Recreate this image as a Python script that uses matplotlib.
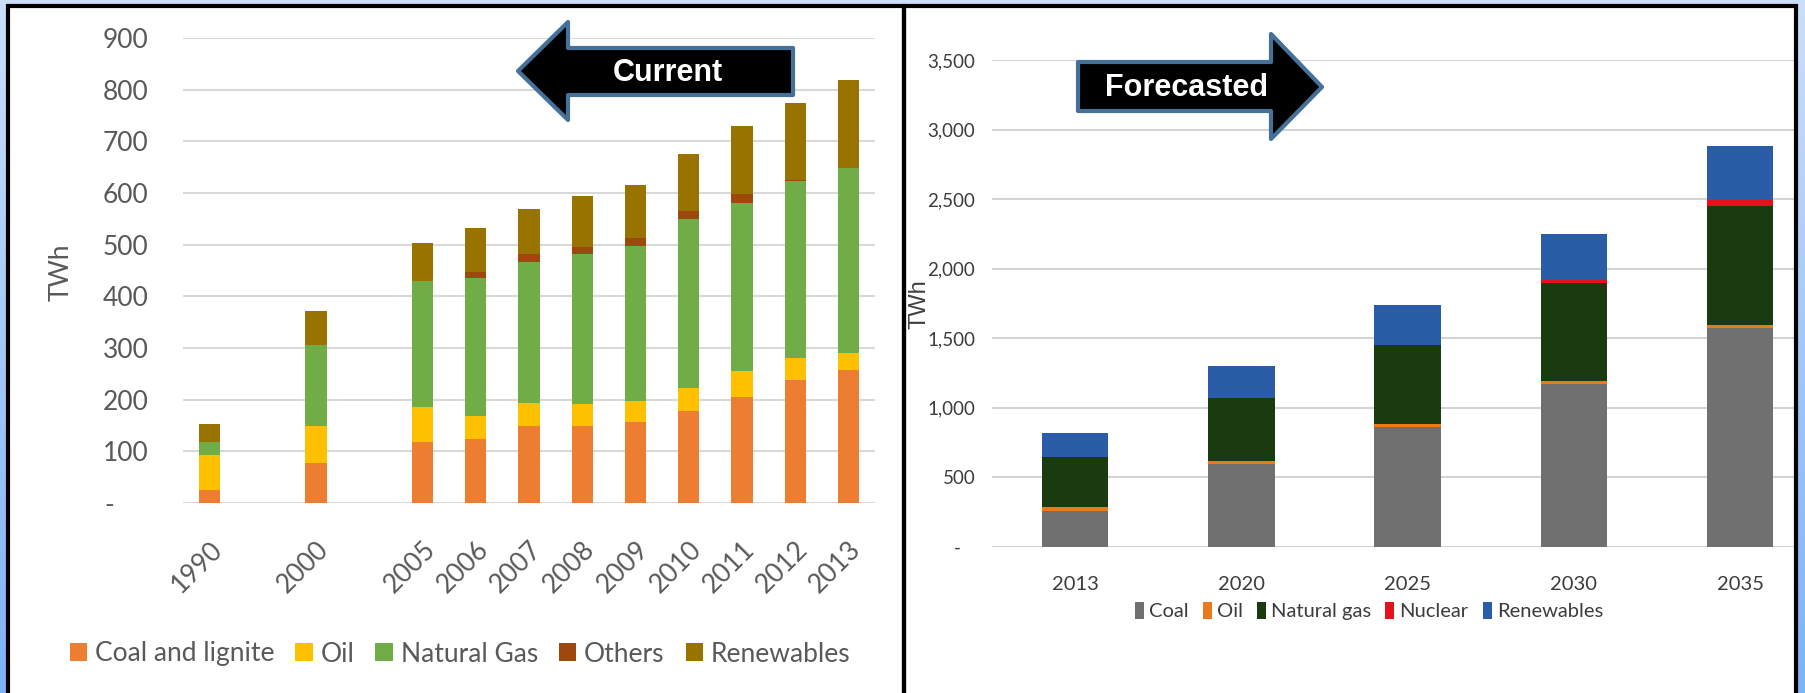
import matplotlib.pyplot as plt
import numpy as np
from matplotlib.patches import Polygon, Rectangle
from matplotlib.colors import LinearSegmentedColormap

W, H = 1805, 693

# ---- left chart: current generation (blank categories as in the Excel chart)
cur_years = ["1990", "", "2000", "", "2005", "2006", "2007", "2008", "2009", "2010", "2011", "2012", "2013"]
cur_coal = [25, 0, 77, 0, 118, 124, 150, 150, 156, 178, 205, 238, 257]
cur_oil = [67, 0, 73, 0, 68, 45, 44, 42, 42, 45, 51, 43, 34]
cur_gas = [27, 0, 155, 0, 244, 266, 272, 289, 299, 327, 325, 343, 357]
cur_others = [0, 0, 0, 0, 0, 13, 15, 14, 15, 15, 17, 2, 0]
cur_renew = [34, 0, 67, 0, 73, 85, 88, 99, 103, 110, 132, 149, 171]

# ---- right chart: forecast
fc_years = ["2013", "2020", "2025", "2030", "2035"]
fc_coal = [257, 597, 863, 1171, 1571]
fc_oil = [34, 22, 22, 25, 25]
fc_gas = [353, 451, 565, 702, 857]
fc_nuclear = [0, 0, 0, 22, 38]
fc_renew = [175, 234, 292, 330, 391]


def px(x, y):
    return x / W, 1 - y / H


fig = plt.figure(figsize=(W / 100, H / 100), dpi=100)

# blue gradient background
bg = fig.add_axes([0, 0, 1, 1], zorder=-10)
cmap = LinearSegmentedColormap.from_list("bg", ["#CBDFFA", "#7DB2F7"])
bg.imshow(np.linspace(0, 1, 256).reshape(-1, 1), aspect="auto", cmap=cmap, extent=[0, 1, 0, 1])
bg.axis("off")

# white panels with black border
for x0, x1 in [(8, 904), (904, 1796)]:
    (fx0, fy0), (fx1, fy1) = px(x0, 700), px(x1, 6)
    fig.add_artist(Rectangle((fx0, fy0), fx1 - fx0, fy1 - fy0, transform=fig.transFigure,
                             facecolor="white", edgecolor="none", zorder=-5))
    fig.add_artist(Rectangle((fx0, fy0), fx1 - fx0, fy1 - fy0, transform=fig.transFigure,
                             facecolor="none", edgecolor="black", lw=3, zorder=20))

# ---------------- left axes
lfont = "Lato"
ax1 = fig.add_axes([183 / W, 1 - 503 / H, (875 - 183) / W, (503 - 38) / H])
x1 = np.arange(len(cur_years))
series1 = [("Coal and lignite", cur_coal, "#ED7D31"), ("Oil", cur_oil, "#FFC000"),
           ("Natural Gas", cur_gas, "#70AD47"), ("Others", cur_others, "#9E480E"),
           ("Renewables", cur_renew, "#997300")]
bottom = np.zeros(len(cur_years))
h1 = []
for name, vals, col in series1:
    b = ax1.bar(x1, vals, 0.4, bottom=bottom, color=col, label=name, lw=0)
    bottom += np.array(vals)
    h1.append(b)
ax1.set_xlim(-0.5, 12.5)
ax1.set_ylim(0, 900)
ax1.set_yticks(range(0, 901, 100))
ax1.set_yticklabels(["-     "] + [str(v) for v in range(100, 901, 100)], family=lfont, fontsize=19)
ax1.set_xticks(x1)
ax1.set_xticklabels(cur_years, rotation=45, ha="right", rotation_mode="anchor", family=lfont, fontsize=19)
ax1.tick_params(axis="y", length=0, pad=25, labelcolor="#595959")
ax1.tick_params(axis="x", length=0, pad=24, labelcolor="#595959")
ax1.grid(axis="y", color="#D9D9D9", lw=1.5)
ax1.set_axisbelow(True)
for s in ax1.spines.values():
    s.set_visible(False)
fig.text(*px(61, 272), "TWh", rotation=90, ha="center", va="center", family=lfont, fontsize=19, color="#595959")
fig.legend(h1, [s[0] for s in series1], loc="center", bbox_to_anchor=px(460, 654), ncol=5, frameon=False,
           prop={"family": lfont, "size": 19}, labelcolor="#595959", handlelength=0.65, handleheight=0.65,
           handletextpad=0.3, columnspacing=0.8)

# ---------------- right axes
rfont = "Lato"
ax2 = fig.add_axes([992 / W, 1 - 547 / H, (1795 - 992) / W, (547 - 60) / H])
x2 = np.arange(len(fc_years))
series2 = [("Coal", fc_coal, "#707070"), ("Oil", fc_oil, "#EB7A1E"), ("Natural gas", fc_gas, "#1A3A0F"),
           ("Nuclear", fc_nuclear, "#E8101A"), ("Renewables", fc_renew, "#2A5CA8")]
bottom = np.zeros(len(fc_years))
h2 = []
for name, vals, col in series2:
    b = ax2.bar(x2, vals, 0.4, bottom=bottom, color=col, label=name, lw=0)
    bottom += np.array(vals)
    h2.append(b)
ax2.set_xlim(-0.5, 4.33)
ax2.set_ylim(0, 3500)
ax2.set_yticks(range(0, 3501, 500))
ax2.set_yticklabels(["-   "] + [f"{v:,}" for v in range(500, 3501, 500)], family=rfont, fontsize=13.5)
ax2.set_xticks(x2)
ax2.set_xticklabels(fc_years, family=rfont, fontsize=14.5)
ax2.tick_params(axis="y", length=0, pad=12, labelcolor="#3C3C3C")
ax2.tick_params(axis="x", length=0, pad=21, labelcolor="#3C3C3C")
ax2.grid(axis="y", color="#D4D4D4", lw=1.5)
ax2.set_axisbelow(True)
for s in ax2.spines.values():
    s.set_visible(False)
fig.text(*px(919, 304), "TWh", rotation=90, ha="center", va="center", family="Liberation Sans", fontsize=17, color="#404040")
fig.legend(h2, [s[0] for s in series2], loc="center", bbox_to_anchor=px(1369, 611), ncol=5, frameon=False,
           prop={"family": rfont, "size": 14.5}, labelcolor="#3C3C3C", handlelength=0.45, handleheight=0.9,
           handletextpad=0.25, columnspacing=0.7)

# ---------------- block arrows
edge = "#44709A"
left_arrow = [(518, 71), (568, 22), (568, 48), (793, 48), (793, 95), (568, 95), (568, 120)]
right_arrow = [(1078, 62), (1271, 62), (1271, 34), (1322, 87), (1271, 139), (1271, 111), (1078, 111)]
for pts in (left_arrow, right_arrow):
    fig.add_artist(Polygon([px(*p) for p in pts], closed=True, transform=fig.transFigure,
                           facecolor="black", edgecolor=edge, lw=3, joinstyle="round", zorder=10))
fig.text(*px(668, 73), "Current", ha="center", va="center", color="white", fontsize=22,
         fontweight="bold", family="Liberation Sans", zorder=11)
fig.text(*px(1187, 88), "Forecasted", ha="center", va="center", color="white", fontsize=22,
         fontweight="bold", family="Liberation Sans", zorder=11)

fig.savefig("out.png", dpi=100)
